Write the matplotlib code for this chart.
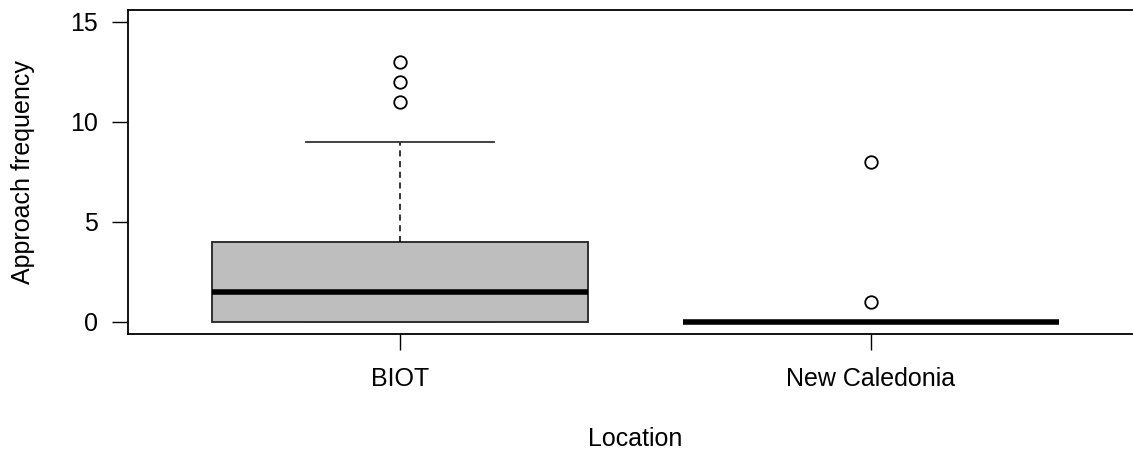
import matplotlib
matplotlib.use("Agg")
import matplotlib.pyplot as plt

# Data
categories = ["BIOT", "New Caledonia"]
q1 = [0.0, 0.0]
medians = [1.5, 0.0]
q3 = [4.0, 0.0]
whisker_low = [0.0, 0.0]
whisker_high = [9.0, 0.0]
outliers = [[11, 12, 13], [1, 8]]
y_ticks = [0, 5, 10, 15]

plt.rcParams['font.family'] = ['Liberation Sans', 'DejaVu Sans']

fig = plt.figure(figsize=(11.33, 4.54), dpi=100)
ax = fig.add_axes([128 / 1133, 1 - 334 / 454, 1015 / 1133, (334 - 9.7) / 454])

stats = []
for i, name in enumerate(categories):
    stats.append(dict(label=name, q1=q1[i], med=medians[i], q3=q3[i],
                      whislo=whisker_low[i], whishi=whisker_high[i],
                      fliers=outliers[i]))

ax.bxp(stats, positions=[1, 2], widths=0.8, patch_artist=True,
       boxprops=dict(facecolor='#bebebe', edgecolor='#222222', linewidth=1.3),
       medianprops=dict(color='black', linewidth=4, solid_capstyle='butt'),
       whiskerprops=dict(color='black', linewidth=1.1, linestyle=(0, (4, 3))),
       capprops=dict(color='#333333', linewidth=1.3),
       flierprops=dict(marker='o', markersize=9, markerfacecolor='white',
                       markeredgecolor='black', markeredgewidth=1.3,
                       linestyle='none'),
       capwidths=0.4)

ax.set_xlim(0.422, 2.578)
ax.set_ylim(-0.6, 15.6)
ax.set_yticks(y_ticks)
ax.set_yticklabels([str(v) for v in y_ticks])
ax.set_xticks([1, 2])
ax.set_xticklabels(categories)

for sp in ax.spines.values():
    sp.set_linewidth(1.3)
    sp.set_color('black')

ax.tick_params(axis='both', direction='out', length=11.5, width=1.0,
               labelsize=18, colors='black')
ax.tick_params(axis='y', pad=10)
ax.tick_params(axis='x', pad=12)

ax.set_ylabel("Approach frequency", fontsize=18, va='center')
ax.yaxis.set_label_coords(-0.1034, 0.5)
ax.set_xlabel("Location", fontsize=18, va='top')
ax.xaxis.set_label_coords((635 - 128) / 1015, (334 - 427) / 324.3)

fig.savefig("out.png", dpi=100)
